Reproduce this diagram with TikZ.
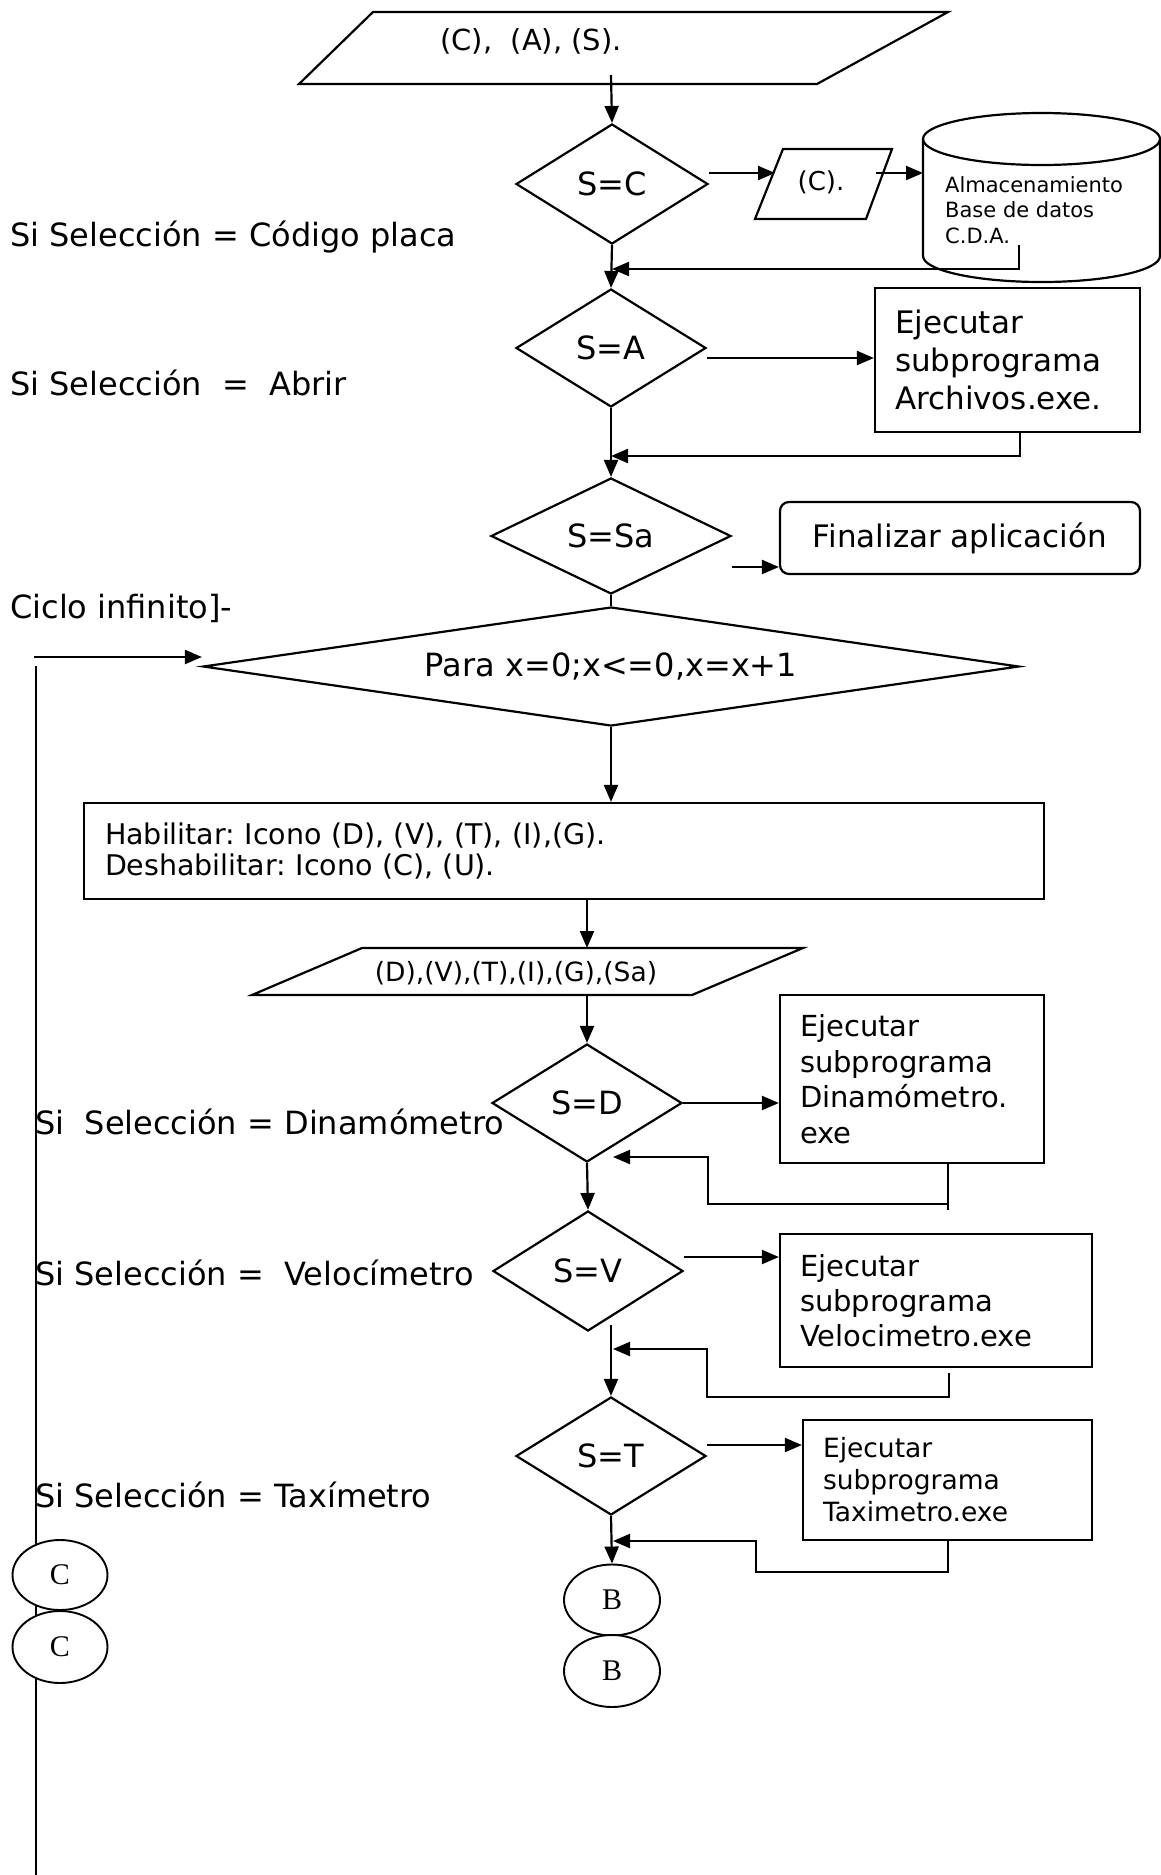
\documentclass[tikz,border=0pt]{standalone}
\usepackage{fontspec}
\setmainfont{DejaVu Sans}
\newfontfamily\letterfont{Liberation Serif}
\usetikzlibrary{shapes.geometric,arrows.meta,calc}
\frenchspacing

\tikzset{
  line/.style={line width=2.2pt},
  arr/.style={line width=2.2pt,-{Triangle[length=17pt,width=14pt]}},
  cond/.style={diamond,draw,line width=2.2pt,inner sep=0pt,aspect=2,
    font=\fontsize{32}{38}\selectfont},
  procbox/.style={rectangle,draw,line width=2.2pt,align=left,
    inner xsep=20pt,inner ysep=0pt},
  sidenote/.style={anchor=base west,inner sep=0pt,font=\fontsize{32}{38}\selectfont},
  conn/.style={ellipse,draw,fill=white,line width=1.9pt,inner sep=0pt,
    font=\letterfont\fontsize{30}{36}\selectfont},
  plain/.style={inner sep=0pt},
}

\begin{document}
\begin{tikzpicture}[x=1pt,y=-1pt]
\fill[white] (0,0) rectangle (1161,1875);
\useasboundingbox (0,0) rectangle (1161,1875);

% ---- notes on the left ----
\node[sidenote] (nCod) at (10,246) {Si Selección = Código placa};
\node[sidenote] (nAbr) at (10,395) {Si Selección\ \ =\ \ Abrir};
\node[sidenote] (nCic) at (10,618) {Ciclo infinito]-};
\node[sidenote] (nDin) at (35,1134) {Si\ \ Selección = Dinamómetro};
\node[sidenote] (nVel) at (35,1285) {Si Selección =\ \ Velocímetro};
\node[sidenote] (nTax) at (35,1507) {Si Selección = Taxímetro};

% ---- first input ----
\draw[line] (373,12) -- (948,12) -- (817,84) -- (299,84) -- cycle;
\node[plain,anchor=west,font=\fontsize{29}{34}\selectfont] (inTop) at (440,41) {(C),\ \ (A), (S).};
\coordinate (inTop-out) at (611,75);

% ---- decisions ----
\node[cond,minimum width=192pt,minimum height=120pt] (dC) at (612,184) {S=C};
\node[cond,minimum width=190pt,minimum height=118pt] (dA) at (611,348) {S=A};
\node[cond,minimum width=240pt,minimum height=116pt] (dSa) at (611,536) {S=Sa};
\node[cond,aspect=6,minimum width=816pt,minimum height=119pt] (dPara) at (611,666.5) {Para x=0;x<=0,x=x+1};
\node[cond,minimum width=190pt,minimum height=118pt] (dD) at (587,1103) {S=D};
\node[cond,minimum width=190pt,minimum height=120pt] (dV) at (588,1271) {S=V};
\node[cond,minimum width=190pt,minimum height=118pt] (dT) at (611,1456) {S=T};

% ---- code input ----
\draw[line] (783,149) -- (892,149) -- (866,219) -- (755,219) -- cycle;
\node[plain,font=\fontsize{26}{30}\selectfont] (inC) at (821,182) {(C).};
\coordinate (inC-w) at (775,173);
\coordinate (inC-e) at (876,173);

% ---- storage ----
\draw[line] (923,139) -- (923,256) arc[start angle=180,end angle=0,x radius=118.5,y radius=26] -- (1160,139);
\draw[line] (1041.5,139) ellipse[x radius=118.5,y radius=26];
\node[plain,anchor=west,align=left,font=\fontsize{21}{25.5}\selectfont] (db) at (945,210) {Almacenamiento\\Base de datos\\C.D.A.};
\coordinate (db-w) at (923,173);
\coordinate (db-out) at (1019,245);

% ---- processes ----
\node[procbox,font=\fontsize{31}{38}\selectfont,text width=225pt,minimum height=144pt] (bArch) at (1007.5,360) {Ejecutar\\subprograma\\Archivos.exe.};
\node[draw,line width=2.2pt,rounded corners=9pt,minimum width=360pt,minimum height=72pt,inner sep=0pt,font=\fontsize{31}{38}\selectfont] (bFin) at (960,538) {Finalizar aplicación};
\node[procbox,font=\fontsize{28.5}{31}\selectfont,text width=918pt,inner xsep=21pt,minimum height=96pt] (bHab) at (564,851) {Habilitar: Icono (D), (V), (T), (I),(G).\\Deshabilitar: Icono (C), (U).};
\node[procbox,font=\fontsize{29}{35.5}\selectfont,text width=224pt,minimum height=168pt] (bDin) at (912,1079) {Ejecutar\\subprograma\\Dinamómetro.\\exe};
\node[procbox,font=\fontsize{29}{35}\selectfont,text width=272pt,minimum height=133pt] (bVel) at (936,1300.5) {Ejecutar\\subprograma\\Velocimetro.exe};
\node[procbox,font=\fontsize{26.5}{32}\selectfont,text width=249pt,minimum height=120pt] (bTax) at (947.5,1480) {Ejecutar\\subprograma\\Taximetro.exe};

% ---- selection input ----
\draw[line] (362,948) -- (803,948) -- (692,995) -- (252,995) -- cycle;
\node[plain,font=\fontsize{26.5}{30}\selectfont] (inSel) at (516,973) {(D),(V),(T),(I),(G),(Sa)};
\coordinate (inSel-n) at (587,948);
\coordinate (inSel-s) at (587,995);

% ---- main flow ----
\draw[arr] (inTop-out) -- (dC.north);
\coordinate (aC) at ([yshift=11pt]dC.east);
\draw[arr] (aC) -- (inC-w);
\draw[arr] (inC-e) -- (db-w);
\coordinate (jC) at (612,269);
\draw[arr] (db-out) |- (jC);
\draw[arr] (dC.south) -- (dA.north);

\coordinate (aA) at ([yshift=-10pt]dA.east);
\draw[arr] (aA) -- (aA -| bArch.west);
\coordinate (jA) at (611,456);
\draw[arr] ([xshift=12.5pt]bArch.south) |- (jA);
\draw[arr] (dA.south) -- (dSa.north);

\coordinate (aSa) at ([yshift=-31pt]dSa.east);
\draw[arr] (aSa) -- (aSa -| bFin.west);
\draw[line] (dSa.south) -- (dPara.north);

% ---- endless loop ----
\coordinate (loopIn) at (34,657);
\draw[arr] (loopIn) -- (loopIn -| dPara.west);
\coordinate (loopTop) at (36,666);
\coordinate (loopBot) at (36,1875);
\draw[line] (loopTop) -- (loopBot);

\draw[arr] (dPara.south) -- (dPara.south |- bHab.north);
\draw[arr] (bHab.south -| inSel-n) -- (inSel-n);
\draw[arr] (inSel-s) -- (dD.north);

% ---- dinamometro branch ----
\draw[arr] (dD.east) -- (dD.east -| bDin.west);
\coordinate (x948) at (948,0);
\coordinate (rD) at (948,1210);
\draw[line] (bDin.south -| x948) -- (rD);
\coordinate (rD1) at (948,1204);
\coordinate (rD2) at (708,1157);
\coordinate (rD3) at (613,1157);
\draw[arr] (rD1) -| (rD2) -- (rD3);
\draw[arr] (dD.south) -- (dV.north);

% ---- velocimetro branch ----
\coordinate (aV) at ([yshift=14pt]dV.east);
\draw[arr] (aV) -- (aV -| bVel.west);
\coordinate (rV0) at (949,1373);
\coordinate (rV1) at (707,1397);
\coordinate (rV2) at (613,1349);
\draw[arr] (rV0) |- (rV1) |- (rV2);
\coordinate (vOut) at (611,1325);
\draw[arr] (vOut) -- (dT.north);

% ---- taximetro branch ----
\coordinate (aT) at ([yshift=11pt]dT.east);
\draw[arr] (aT) -- (aT -| bTax.west);
\coordinate (rT1) at (756,1572);
\coordinate (rT2) at (613,1541);
\draw[arr] (bTax.south -| x948) |- (rT1) |- (rT2);

% ---- connectors ----
\node[conn,minimum width=96pt,minimum height=71pt] (cB1) at (612,1600) {B};
\node[conn,minimum width=96pt,minimum height=72pt] (cB2) at (612,1671) {B};
\draw[arr] (dT.south) -- (cB1.north);
\node[conn,minimum width=95pt,minimum height=70pt] (cC1) at (60,1575) {C};
\node[conn,minimum width=95pt,minimum height=72pt] (cC2) at (60,1647) {C};
\end{tikzpicture}
\end{document}
